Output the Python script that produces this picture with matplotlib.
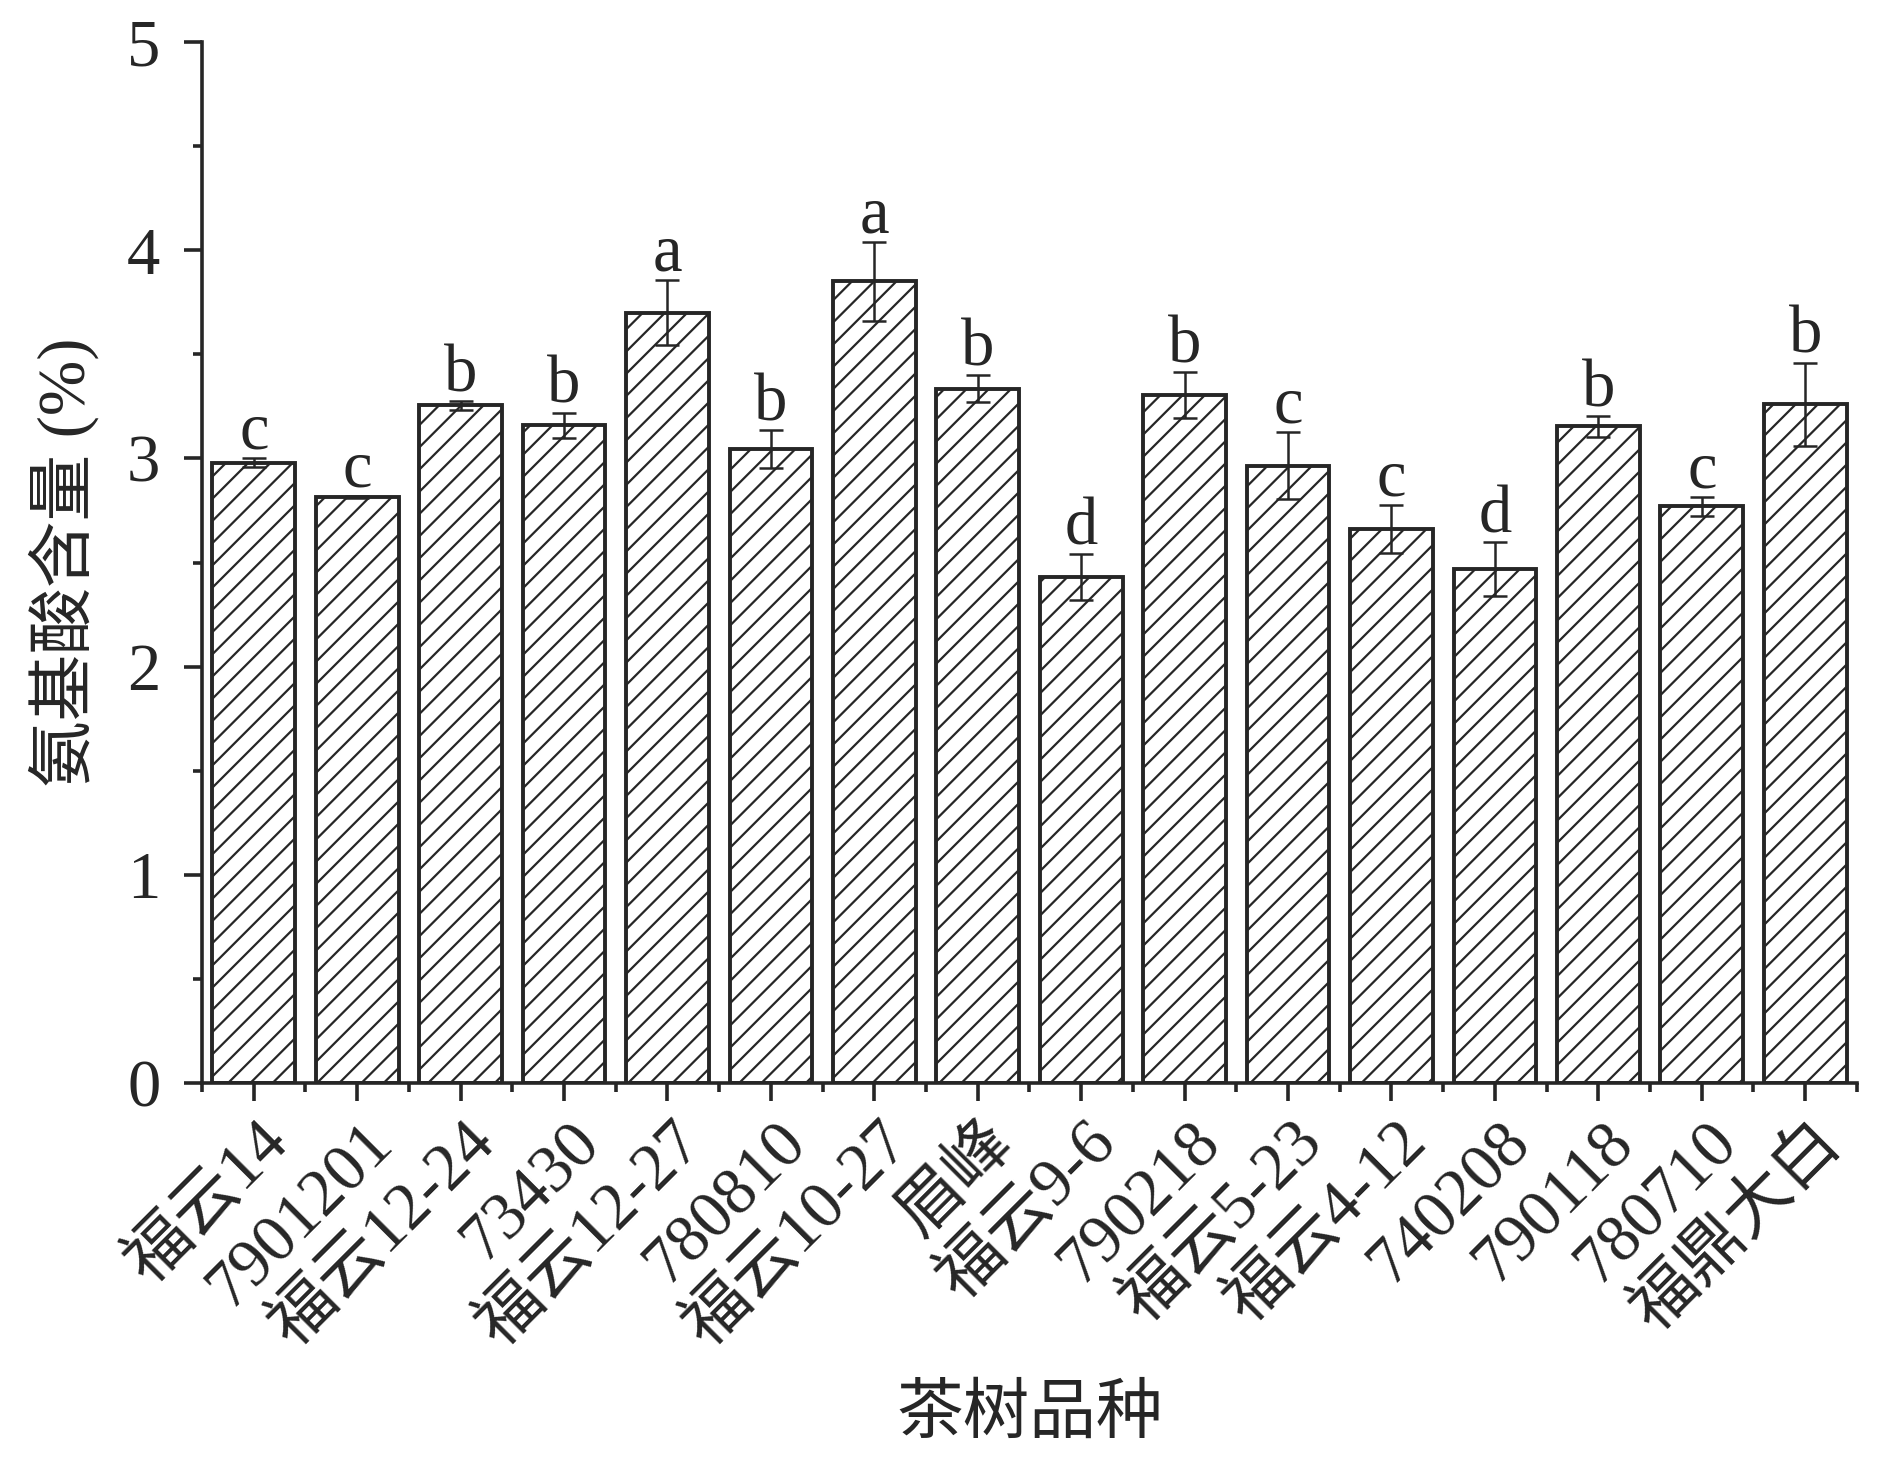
import numpy as np
import matplotlib
matplotlib.use('Agg')
import matplotlib.pyplot as plt
from matplotlib.ticker import MultipleLocator, FixedLocator
from matplotlib.transforms import ScaledTranslation

# Data
varieties = ['福云14', '7901201', '福云12-24', '73430', '福云12-27', '780810',
             '福云10-27', '眉峰', '福云9-6', '790218', '福云5-23', '福云4-12',
             '740208', '790118', '780710', '福鼎大白']
amino = [2.98, 2.815, 3.255, 3.16, 3.70, 3.045, 3.85, 3.335, 2.43, 3.305,
         2.965, 2.66, 2.47, 3.155, 2.77, 3.26]
err = [0.02, 0.005, 0.02, 0.06, 0.155, 0.09, 0.19, 0.065, 0.11, 0.11,
       0.16, 0.115, 0.13, 0.05, 0.045, 0.20]
letters = ['c', 'c', 'b', 'b', 'a', 'b', 'a', 'b', 'd', 'b', 'c', 'c',
           'd', 'b', 'c', 'b']

ink = '#262626'
plt.rcParams['font.family'] = ['Liberation Serif', 'Noto Sans CJK SC']
plt.rcParams['hatch.linewidth'] = 0.8
plt.rcParams['hatch.color'] = ink

fig = plt.figure(figsize=(9.45, 7.325), dpi=200)
ax = fig.add_axes([0.1069, 0.2607, 0.8756, 0.7106])

x = np.arange(len(varieties))
ax.bar(x, amino, width=0.8, color='white', edgecolor=ink, linewidth=1.4,
       hatch='///', zorder=2)
ax.errorbar(x, amino, yerr=err, fmt='none', ecolor=ink, elinewidth=0.9,
            capsize=4.3, capthick=0.9, zorder=3)

for xi, v, e, s in zip(x, amino, err, letters):
    ax.annotate(s, (xi, v + e), xytext=(0, 3.5), textcoords='offset points',
                ha='center', va='baseline', fontsize=24, color=ink)

ax.set_xlim(-0.5, len(varieties) - 0.5)
ax.set_ylim(0, 5)
ax.yaxis.set_major_locator(MultipleLocator(1))
ax.yaxis.set_minor_locator(MultipleLocator(0.5))
ax.set_xticks(x)
ax.xaxis.set_minor_locator(FixedLocator(np.arange(-0.5, len(varieties), 1)))

for side in ['top', 'right']:
    ax.spines[side].set_visible(False)
for side in ['left', 'bottom']:
    ax.spines[side].set_linewidth(1.3)
    ax.spines[side].set_color(ink)

ax.tick_params(which='major', direction='out', length=6.5, width=1.3, color=ink)
ax.tick_params(which='minor', direction='out', length=3.2, width=1.3, color=ink)
ax.tick_params(axis='y', which='major', labelsize=24, pad=8.5, labelcolor=ink)
ax.tick_params(axis='x', which='major', labelsize=24, pad=11.5, labelcolor=ink)

ax.set_xticklabels(varieties, rotation=45, ha='right', va='center',
                   rotation_mode='anchor')
shift = ScaledTranslation(26 / 200, 0, fig.dpi_scale_trans)
for lab in ax.get_xticklabels():
    lab.set_transform(lab.get_transform() + shift)

ax.set_xlabel('茶树品种', fontsize=24, color=ink, va='center')
ax.xaxis.set_label_coords(0.5, -0.32)
ax.set_ylabel('氨基酸含量 (%)', fontsize=24, color=ink, va='center')
ax.yaxis.set_label_coords(-0.0834, 0.5)

fig.savefig('out.png', dpi=200)
